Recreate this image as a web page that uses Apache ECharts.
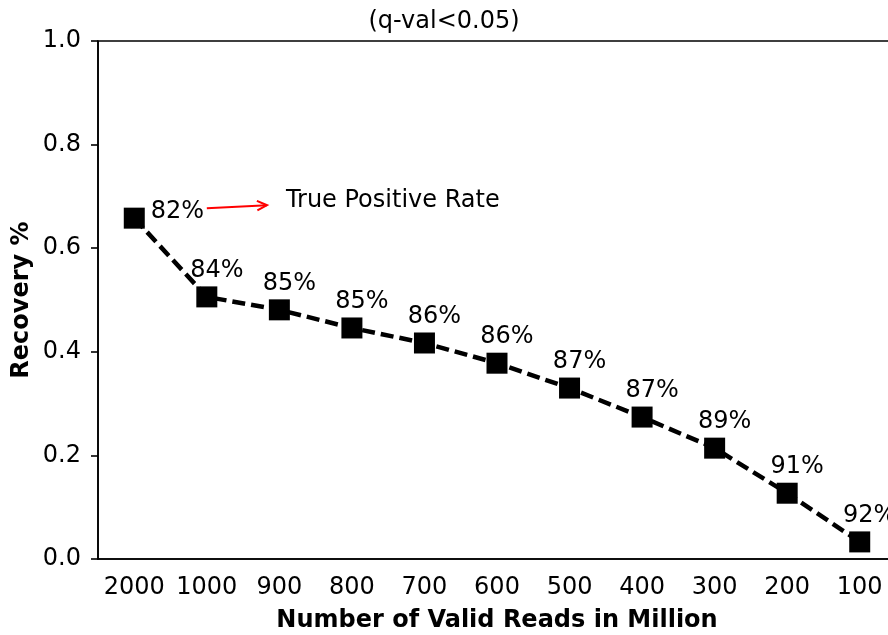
<!DOCTYPE html>
<html>
<head>
<meta charset="utf-8">
<script src="https://cdn.jsdelivr.net/npm/echarts@6/dist/echarts.min.js"></script>
<style>
html,body{margin:0;padding:0;background:#fff;}
#chart{width:888px;height:635px;}
</style>
</head>
<body>
<div id="chart"></div>
<script>
const categories = ['2000','1000','900','800','700','600','500','400','300','200','100'];
const recovery = [0.658, 0.506, 0.481, 0.446, 0.417, 0.378, 0.330, 0.274, 0.214, 0.127, 0.033];
const tprLabels = ['82%','84%','85%','85%','86%','86%','87%','87%','89%','91%','92%'];
const yTicks = [0, 0.2, 0.4, 0.6, 0.8, 1.0];
const titleText = '(q-val<0.05)';
const annotationText = 'True Positive Rate';
// annotation in data units (x as category index position, y as value)
const arrowTail = [1.00, 0.677];
const arrowHead = [1.83, 0.683];
const annotationPos = [2.09, 0.692];

const FONT = 'DejaVu Sans';
const chart = echarts.init(document.getElementById('chart'));

const seriesData = recovery.map((v, i) => {
  const d = { value: v, label: { formatter: tprLabels[i] } };
  if (i === 0) {
    d.label = { formatter: tprLabels[i], position: 'right', distance: 6, offset: [0, -6] };
  }
  return d;
});

const option = {
  animation: false,
  backgroundColor: '#fff',
  title: {
    text: titleText, left: 'center', top: 5,
    textStyle: { fontFamily: FONT, fontSize: 24, fontWeight: 'normal', color: '#000' }
  },
  grid: { left: 98, top: 41, width: 798, height: 518, outerBoundsMode: 'none', show: true, borderColor: '#000', borderWidth: 1.6, containLabel: false },
  xAxis: [{
    type: 'category', data: categories, boundaryGap: true,
    name: 'Number of Valid Reads in Million', nameLocation: 'middle', nameGap: 50, nameMoveOverlap: false,
    nameTextStyle: { fontFamily: FONT, fontSize: 24, fontWeight: 'bold', color: '#000' },
    axisLine: { onZero: false, lineStyle: { color: '#000', width: 1.6 } },
    axisTick: { alignWithLabel: true, length: 7, lineStyle: { color: '#000', width: 1.6 } },
    axisLabel: { fontFamily: FONT, fontSize: 24, color: '#000', margin: 17, interval: 0 },
    splitLine: { show: false }
  }, {
    type: 'value', min: -0.5, max: 10.5, show: false
  }],
  yAxis: {
    type: 'value', min: 0, max: 1, interval: 0.2,
    name: 'Recovery %', nameLocation: 'middle', nameGap: 64, nameMoveOverlap: false,
    nameTextStyle: { fontFamily: FONT, fontSize: 24, fontWeight: 'bold', color: '#000' },
    axisLine: { show: true, onZero: false, lineStyle: { color: '#000', width: 1.6 } },
    axisTick: { show: true, length: 7, lineStyle: { color: '#000', width: 1.6 } },
    axisLabel: { fontFamily: FONT, fontSize: 24, color: '#000', margin: 17,
      formatter: v => { const t = yTicks.find(x => Math.abs(x - v) < 1e-9); return (t !== undefined ? t : v).toFixed(1); } },
    splitLine: { show: false }
  },
  series: [{
    type: 'line', data: seriesData,
    symbol: 'rect', symbolSize: 21,
    itemStyle: { color: '#000' },
    lineStyle: { color: '#000', width: 4.5, type: [13, 6] },
    label: { show: true, position: 'top', distance: 4, offset: [10, 0],
      fontFamily: FONT, fontSize: 24, color: '#000' },
    z: 3
  }]
};
chart.setOption(option);

function px(p) { return chart.convertToPixel({ xAxisIndex: 1, yAxisIndex: 0 }, p); }
const t = px(arrowTail), h = px(arrowHead), a = px(annotationPos);
const ang = Math.atan2(h[1] - t[1], h[0] - t[0]);
const hl = 11, hw = 0.45;
const h1 = [h[0] - hl * Math.cos(ang - hw), h[1] - hl * Math.sin(ang - hw)];
const h2 = [h[0] - hl * Math.cos(ang + hw), h[1] - hl * Math.sin(ang + hw)];
chart.setOption({
  graphic: [
    { type: 'line', shape: { x1: t[0], y1: t[1], x2: h[0], y2: h[1] }, style: { stroke: '#ff0000', lineWidth: 2 }, z: 10 },
    { type: 'polyline', shape: { points: [h1, h, h2] }, style: { stroke: '#ff0000', lineWidth: 2, fill: null }, z: 10 },
    { type: 'text', x: a[0], y: a[1], style: { text: annotationText, fontFamily: FONT, fontSize: 24, fill: '#000', verticalAlign: 'middle' }, z: 10 }
  ]
});
</script>
</body>
</html>
